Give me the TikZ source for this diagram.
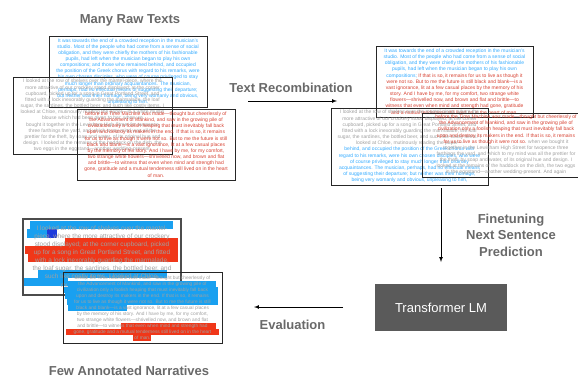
\documentclass[tikz,border=0pt]{standalone}
\usepackage{fontspec}
\setmainfont{Liberation Sans}
\usepackage{tikz}
\usetikzlibrary{shapes}

\definecolor{rawblue}{RGB}{51,170,255}
\definecolor{rawred}{RGB}{214,64,48}
\definecolor{rawgray}{RGB}{160,160,160}
\definecolor{hlblue}{RGB}{25,160,240}
\definecolor{hlred}{RGB}{240,55,25}
\definecolor{hldark}{RGB}{30,60,220}
\definecolor{titlegray}{RGB}{105,105,105}
\definecolor{lmgray}{RGB}{90,90,90}

\begin{document}
\begin{tikzpicture}[x=1pt,y=-1pt,
	doc/.style={rectangle,draw=black!85,line width=0.9pt,align=center,inner sep=0pt,font=\fontsize{5}{6.15}\selectfont},
	title/.style={text=titlegray,align=center,font=\fontsize{13}{16.5}\selectfont\bfseries},
	flow/.style={-latex,line width=0.7pt}]

	\useasboundingbox (0,0) rectangle (578,378);

	% raw texts
	\node[title] (raw) at (130,20) {Many Raw Texts};
	\node[doc,text=rawblue,minimum width=158pt,minimum height=71pt] (rawa) at (128,71.5) {It was towards the end of a crowded reception in the musician's\\studio. Most of the people who had come from a sense of social\\obligation, and they were chiefly the mothers of his fashionable\\pupils, had left when the musician began to play his own\\compositions; and those who remained behind, and occupied\\the position of the Greek chorus with regard to his remarks, were\\his own chosen disciples, who were of course privileged to stay\\much longer than ordinary acquaintances. The musician,\\perhaps, had no effectual means of suggesting their departure;\\but neither was their homage, being very womanly and obvious,\\unpleasing to him.};
	\node[doc,text=rawgray,minimum width=159pt,minimum height=77pt] (rawb) at (92.5,115.5) {I looked at the row of shelves over the mantel-piece, where the\\more attractive of our crockery stood displayed; at the corner\\cupboard, picked up for a song in Great Portland Street, and\\fitted with a lock inexorably guarding the marmalade, the loaf\\sugar, the sardines, the bottled beer, and such like costly items. I\\looked at Chloe, mutinously reading the paper---in a white muslin\\blouse which had been given to her, when we\\bought it together in the Lewisham High Street for twopence\\three farthings the yard, and which to my mind was all the\\prettier for the theft, by soap and water, of its original hue and\\design. I looked at the remains of the haddock on the dish, the\\two eggs in the eggstand---another wedding-present.};
	\node[doc,text=rawred,minimum width=158pt,minimum height=71pt] (rawc) at (156,144.5) {before the Time Machine was made---thought but cheerlessly of\\the Advancement of Mankind, and saw in the growing pile of\\civilization only a foolish heaping that must inevitably fall back\\upon and destroy its makers in the end. If that is so, it remains\\for us to live as though it were not so. But to me the future is still\\black and blank---is a vast ignorance, lit at a few casual places\\by the memory of his story. And I have by me, for my comfort,\\two strange white flowers---shrivelled now, and brown and flat\\and brittle---to witness that even when mind and strength had\\gone, gratitude and a mutual tenderness still lived on in the heart\\of man.};

	% recombined texts
	\node[title] (recomb) at (291,88) {Text Recombination};
	\node[doc,text=rawblue,minimum width=157pt,minimum height=71pt] (mixa) at (454.5,81.5) {It was towards the end of a crowded reception in the musician's\\studio. Most of the people who had come from a sense of social\\obligation, and they were chiefly the mothers of his fashionable\\pupils, had left when the musician began to play his own\\compositions; \textcolor{rawred}{If that is so, it remains for us to live as though it}\\\textcolor{rawred}{were not so. But to me the future is still black and blank---is a}\\\textcolor{rawred}{vast ignorance, lit at a few casual places by the memory of his}\\\textcolor{rawred}{story. And I have by me, for my comfort, two strange white}\\\textcolor{rawred}{flowers---shrivelled now, and brown and flat and brittle---to}\\\textcolor{rawred}{witness that even when mind and strength had gone, gratitude}\\\textcolor{rawred}{and a mutual tenderness still lived on in the heart of man.}};
	\node[doc,text=rawgray,minimum width=157pt,minimum height=77pt] (mixb) at (409.5,146.5) {I looked at the row of shelves over the mantel-piece, where the\\more attractive of our crockery stood displayed; at the corner\\cupboard, picked up for a song in Great Portland Street, and\\fitted with a lock inexorably guarding the marmalade, the loaf\\sugar, the sardines, the bottled beer, and such like costly items. I\\looked at Chloe, mutinously reading the paper---\\\textcolor{rawblue}{behind, and occupied the position of the Greek chorus with}\\\textcolor{rawblue}{regard to his remarks, were his own chosen disciples, who were}\\\textcolor{rawblue}{of course privileged to stay much longer than ordinary}\\\textcolor{rawblue}{acquaintances. The musician, perhaps, had no effectual means}\\\textcolor{rawblue}{of suggesting their departure; but neither was their homage,}\\\textcolor{rawblue}{being very womanly and obvious, unpleasing to him,}};
	\node[doc,text=rawred,minimum width=168pt,minimum height=64pt] (mixc) at (506,145) {before the Time Machine was made---thought but cheerlessly of\\the Advancement of Mankind, and saw in the growing pile of\\civilization only a foolish heaping that must inevitably fall back\\upon and destroy its makers in the end. If that is so, it remains\\for us to live as though it were not so. \textcolor{rawgray}{when we bought it}\\\textcolor{rawgray}{together in the Lewisham High Street for twopence three}\\\textcolor{rawgray}{farthings the yard, and which to my mind was all the prettier for}\\\textcolor{rawgray}{the theft, by soap and water, of its original hue and design. I}\\\textcolor{rawgray}{looked at the remains of the haddock on the dish, the two eggs}\\\textcolor{rawgray}{in the eggstand---another wedding-present. And again}};

	\coordinate (rc-a) at (248,101);
	\coordinate (rc-b) at (337,101);
	\path[flow] (rc-a) edge (rc-b);

	% finetuning
	\node[title] (finetune) at (511,235) {Finetuning\\Next Sentence\\Prediction};
	\node[rectangle,fill=lmgray,text=white,minimum width=132pt,minimum height=47pt,font=\fontsize{13}{15}\selectfont] (lm) at (441,307.5) {Transformer LM};

	\coordinate (ft-a) at (441,188);
	\coordinate (ft-b) at (441,262);
	\path[flow] (ft-a) edge (ft-b);

	% evaluation
	\node[title] (evaltxt) at (292.5,325) {Evaluation};
	\coordinate (ev-a) at (343,307);
	\coordinate (ev-b) at (254,307);
	\path[flow] (ev-a) edge (ev-b);

	% annotated narratives
	\fill[hlblue] (30,220.5) rectangle (173,229);
	\fill[hlblue] (27,229) rectangle (47,237.5);
	\fill[hldark] (47,229) rectangle (57,237.5);
	\fill[hlred] (65,237.5) rectangle (178,246);
	\fill[hlred] (25,246) rectangle (178,254);
	\fill[hlred] (28,254) rectangle (178,262);
	\fill[hlblue] (38,270) rectangle (167,278);
	\fill[hlblue] (23,278) rectangle (68,286);
	\node[doc,text=rawgray,draw=black!70,line width=1.1pt,minimum width=158pt,minimum height=76pt,font=\fontsize{6.4}{8.1}\selectfont] (anna) at (102,257) {I looked at the row of shelves over the mantel-\\piece, where the more attractive of our crockery\\stood displayed; at the corner cupboard, picked\\up for a song in Great Portland Street, and fitted\\with a lock inexorably guarding the marmalade,\\the loaf sugar, the sardines, the bottled beer, and\\such like costly items. I looked at Chloe,\\mutinously reading the paper};

	\fill[hlblue] (68,281) rectangle (216,287);
	\fill[hlblue] (64,287) rectangle (218,293);
	\fill[hlblue] (65,293) rectangle (218,299);
	\fill[hlblue] (67,299) rectangle (218,305);
	\fill[hlblue] (68,305) rectangle (127,311);
	\fill[hlred] (121,323) rectangle (216,329);
	\fill[hlred] (66,329) rectangle (219,335);
	\fill[hlred] (133,335) rectangle (151,341);
	\node[doc,text=rawgray,minimum width=159pt,minimum height=71pt,font=\fontsize{4.8}{6}\selectfont] (annb) at (142.5,307.5) {before the Time Machine was made---thought but cheerlessly of\\the Advancement of Mankind, and saw in the growing pile of\\civilization only a foolish heaping that must inevitably fall back\\upon and destroy its makers in the end. If that is so, it remains\\for us to live as though it were not so. But to me the future is still\\black and blank---is a vast ignorance, lit at a few casual places\\by the memory of his story. And I have by me, for my comfort,\\two strange white flowers---shrivelled now, and brown and flat\\and brittle---to witness that even when mind and strength had\\gone, gratitude and a mutual tenderness still lived on in the heart\\of man.};
	\node[title] (few) at (129,371) {Few Annotated Narratives};

\end{tikzpicture}
\end{document}
